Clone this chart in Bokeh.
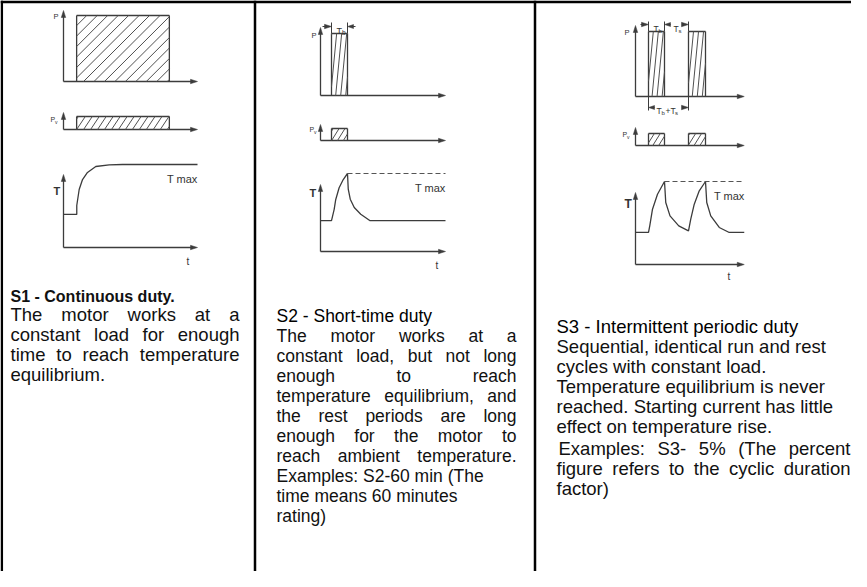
import math
from bokeh.plotting import figure
from bokeh.models import Range1d
from bokeh.embed import file_html
from bokeh.resources import INLINE
from bokeh.core.properties import value

# ---------------- data (chart units) ----------------
# load (run) periods in time units; power and losses relative (1 = rated)
s1_load = [(0.98, 7.9)]
s2_load = [(0.88, 2.16)]
s3_load = [(1.04, 2.32), (4.24, 5.60)]
load_level = 1.0
loss_level = 1.0
axis_len = [10.0, 10.0, 8.7]

# temperature curves: time units, temperature relative (1 = Tmax)
s1_t = [0.0, 0.99, 0.99, 1.17, 1.42, 1.79, 2.41, 3.41, 4.40, 10.0]
s1_T = [0.398, 0.398, 0.506, 0.699, 0.819, 0.904, 0.976, 0.996, 1.0, 1.0]
s2_t = [0.0, 0.88, 1.09, 1.22, 1.49, 1.82, 2.16, 2.22, 2.38, 2.70, 3.22, 3.94, 10.0]
s2_T = [0.397, 0.397, 0.538, 0.667, 0.817, 0.923, 1.0, 0.799, 0.671, 0.564, 0.478, 0.397, 0.397]
s3_t = [0.0, 1.04, 1.14, 1.36, 1.76, 2.32, 2.42, 2.76, 3.46, 4.24, 4.42, 4.70, 5.10, 5.60,
        5.70, 6.02, 6.70, 7.50, 8.7]
s3_T = [0.386, 0.386, 0.466, 0.666, 0.847, 1.0, 0.747, 0.586, 0.466, 0.405, 0.546, 0.727,
        0.888, 1.0, 0.747, 0.586, 0.446, 0.386, 0.386]
tmax_level = 1.0

headers = ["S1 - Continuous duty.", "S2 - Short-time duty", "S3 - Intermittent periodic duty"]
col1_lines = [("The motor works at a", True), ("constant load for enough", True),
              ("time to reach temperature", True), ("equilibrium.", False)]
col2_lines = [("The motor works at a", True), ("constant load, but not long", True),
              ("enough to reach", True), ("temperature equilibrium, and", True),
              ("the rest periods are long", True), ("enough for the motor to", True),
              ("reach ambient temperature.", True), ("Examples: S2-60 min (The", False),
              ("time means 60 minutes", False), ("rating)", False)]
col3_lines = [("Sequential, identical run and rest", False), ("cycles with constant load.", False),
              ("Temperature equilibrium is never", False), ("reached. Starting current has little", False),
              ("effect on temperature rise.", False), ("Examples: S3- 5% (The percent", True),
              ("figure refers to the cyclic duration", True), ("factor)", False)]

# ---------------- geometry / styles ----------------
GEOM = [
    dict(x0=71, ts=13.4, pb=89, ptop=18, ph=66, vb=137, vtop=120, vh=13, tb=255, ttop=182, th=83),
    dict(x0=328, ts=12.5, pb=103, ptop=35, ph=62, vb=148, vtop=132, vh=12, tb=259, ttop=192, th=78),
    dict(x0=643, ts=12.5, pb=104, ptop=33, ph=65, vb=153, vtop=135, vh=12, tb=272, ttop=200, th=83),
]
LINE = "#3c3c3c"
HATCH = "#505050"
FONT = "Liberation Sans"

p = figure(width=851, height=571, x_range=Range1d(8, 859), y_range=Range1d(579, 8),
           output_backend="svg", toolbar_location=None, x_axis_type=None, y_axis_type=None,
           min_border=0, outline_line_color=None)
p.background_fill_color = "white"
p.border_fill_color = "white"


def hatch(x0, x1, ytop, ybot, dirx, diry, spacing, phase=0.0):
    L = math.hypot(dirx, diry)
    dx, dy = dirx / L, diry / L
    nx, ny = -dy, dx
    cs = [nx * cx + ny * cy for cx in (x0, x1) for cy in (ytop, ybot)]
    k = math.ceil((min(cs) - phase) / spacing)
    c = phase + k * spacing
    segs = []
    while c <= max(cs):
        px, py = c * nx, c * ny
        smin, smax = -1e9, 1e9
        for p0, d, lo, hi in ((px, dx, x0, x1), (py, dy, ytop, ybot)):
            if abs(d) < 1e-12:
                if p0 < lo or p0 > hi:
                    smin, smax = 1, 0
            else:
                a, b = (lo - p0) / d, (hi - p0) / d
                if a > b:
                    a, b = b, a
                smin, smax = max(smin, a), min(smax, b)
        if smax - smin > 0.8:
            segs.append((px + smin * dx, py + smin * dy, px + smax * dx, py + smax * dy))
        c += spacing
    return segs


seg = dict(x0=[], y0=[], x1=[], y1=[])
hseg = dict(x0=[], y0=[], x1=[], y1=[])
tri_x, tri_y = [], []


def add_seg(d, a, b, c, e):
    d["x0"].append(a); d["y0"].append(b); d["x1"].append(c); d["y1"].append(e)


def arrow_up(x, y):
    tri_x.append([x, x - 2.2, x + 2.2]); tri_y.append([y, y + 7, y + 7])


def arrow_right(x, y):
    tri_x.append([x, x - 7, x - 7]); tri_y.append([y, y - 2.2, y + 2.2])


def arrow_left(x, y):
    tri_x.append([x, x + 6, x + 6]); tri_y.append([y, y - 2, y + 2])


loads = [s1_load, s2_load, s3_load]
curves = [(s1_t, s1_T), (s2_t, s2_T), (s3_t, s3_T)]
hatch_p = [((1, -1), 7.4), ((6, -62), 5.0), ((6, -62), 5.0)]
hatch_v = [((1, -1.5), 5.8), ((1, -1.6), 5.0), ((1, -1.6), 5.0)]

for i, g in enumerate(GEOM):
    X = lambda t, g=g: g["x0"] + t * g["ts"]
    xend = X(axis_len[i])
    # axes
    for base, top in ((g["pb"], g["ptop"]), (g["vb"], g["vtop"]), (g["tb"], g["ttop"])):
        add_seg(seg, g["x0"], base, g["x0"], top + 5)
        arrow_up(g["x0"], top)
        add_seg(seg, g["x0"], base, xend - 5, base)
        arrow_right(xend, base)
    # load and loss rectangles
    for (a, b) in loads[i]:
        xa, xb = X(a), X(b)
        ytop = g["pb"] - load_level * g["ph"]
        add_seg(seg, xa, g["pb"], xa, ytop); add_seg(seg, xa, ytop, xb, ytop)
        add_seg(seg, xb, ytop, xb, g["pb"])
        (hx, hy), sp = hatch_p[i]
        for s in hatch(xa, xb, ytop, g["pb"], hx, hy, sp, phase=1.5):
            add_seg(hseg, *s)
        vtop = g["vb"] - loss_level * g["vh"]
        add_seg(seg, xa, g["vb"], xa, vtop); add_seg(seg, xa, vtop, xb, vtop)
        add_seg(seg, xb, vtop, xb, g["vb"])
        (hx, hy), sp = hatch_v[i]
        for s in hatch(xa, xb, vtop, g["vb"], hx, hy, sp, phase=1.0):
            add_seg(hseg, *s)

p.segment(x0="x0", y0="y0", x1="x1", y1="y1", source=seg, line_color=LINE, line_width=1.3)
p.segment(x0="x0", y0="y0", x1="x1", y1="y1", source=hseg, line_color=HATCH, line_width=1.0)

# temperature curves and Tmax
for i, g in enumerate(GEOM):
    tt, TT = curves[i]
    xs = [g["x0"] + t * g["ts"] for t in tt]
    ys = [g["tb"] - v * g["th"] for v in TT]
    p.line(xs, ys, line_color=LINE, line_width=1.3)
    if i > 0:
        xpk = g["x0"] + loads[i][0][1] * g["ts"]
        yT = g["tb"] - tmax_level * g["th"]
        p.line([xpk, g["x0"] + axis_len[i] * g["ts"]], [yT, yT], line_color="#555555",
               line_width=1.2, line_dash="5 3")

# dimension marks (Tb, Ts, Tb+Ts)
dim = dict(x0=[], y0=[], x1=[], y1=[])
g2, g3 = GEOM[1], GEOM[2]
a2, b2 = [g2["x0"] + v * g2["ts"] for v in s2_load[0]]
top2 = g2["pb"] - g2["ph"]
add_seg(dim, a2, top2, a2, 30); add_seg(dim, b2, top2, b2, 30)
add_seg(dim, a2 - 9, 34, a2 - 4, 34); arrow_right(a2, 34)
add_seg(dim, b2 + 4, 34, b2 + 8, 34); arrow_left(b2, 34)
a3, b3 = [g3["x0"] + v * g3["ts"] for v in s3_load[0]]
c3, d3 = [g3["x0"] + v * g3["ts"] for v in s3_load[1]]
top3 = g3["pb"] - g3["ph"]
for xx in (a3, b3, c3):
    add_seg(dim, xx, top3, xx, 29)
add_seg(dim, a3 - 8, 32, a3 - 4, 32); arrow_right(a3, 32)
add_seg(dim, b3 + 4, 32, b3 + 6, 32); arrow_left(b3, 32)
add_seg(dim, c3 - 6, 32, c3 - 4, 32); arrow_right(c3, 32)
for xx in (a3, c3):
    add_seg(dim, xx, g3["pb"], xx, 118)
add_seg(dim, a3 + 4, 115, a3 + 6, 115); arrow_left(a3, 115)
add_seg(dim, c3 - 6, 115, c3 - 4, 115); arrow_right(c3, 115)
p.segment(x0="x0", y0="y0", x1="x1", y1="y1", source=dim, line_color=LINE, line_width=1.0)
p.patches(tri_x, tri_y, fill_color=LINE, line_color=LINE, line_width=0.5)

# diagram labels
def lab(x, y, s, size, bold=False, align="left", color="#333333"):
    p.text([x], [y], text=[s], text_font=value(FONT), text_font_size=f"{size}px",
           text_font_style="bold" if bold else "normal", text_align=align,
           text_baseline="alphabetic", text_color=color)

# P, Pv, T, t, Tmax
lab(61, 24, "P", 7.5); lab(319, 43, "P", 7.5); lab(632, 40, "P", 7.5)
for (px_, py_) in ((58, 127), (317, 137), (630, 142)):
    lab(px_, py_, "P", 7); lab(px_ + 4.5, py_ + 2, "v", 5)
lab(61, 198, "T", 11, True); lab(317, 200, "T", 11, True); lab(632, 211, "T", 12, True)
lab(194, 269, "t", 10); lab(443, 273, "t", 10); lab(735, 284, "t", 10)
lab(205, 186, "T max", 11, align="right"); lab(453, 195, "T max", 11, align="right")
lab(752, 203, "T max", 11, align="right")
lab((a2 + b2) / 2 - 3, 38, "T", 9); lab((a2 + b2) / 2 + 2.5, 40, "b", 6.5)
lab((a3 + b3) / 2 - 3, 36, "T", 8.5); lab((a3 + b3) / 2 + 2, 38, "b", 6)
lab((b3 + c3) / 2 - 3, 36, "T", 8.5); lab((b3 + c3) / 2 + 2, 38, "s", 6)
lab((a3 + c3) / 2 - 12, 118, "T", 8.5); lab((a3 + c3) / 2 - 7, 120, "b", 6)
lab((a3 + c3) / 2 - 3, 118, "+T", 8.5); lab((a3 + c3) / 2 + 6.5, 120, "s", 6)

# ---------------- text blocks ----------------
W = {' ': 278, 'a': 556, 'b': 556, 'c': 500, 'd': 556, 'e': 556, 'f': 278, 'g': 556, 'h': 556,
     'i': 222, 'j': 222, 'k': 500, 'l': 222, 'm': 833, 'n': 556, 'o': 556, 'p': 556, 'q': 556,
     'r': 333, 's': 500, 't': 278, 'u': 556, 'v': 500, 'w': 722, 'x': 500, 'y': 500, 'z': 500,
     'A': 667, 'B': 667, 'C': 722, 'D': 722, 'E': 667, 'F': 611, 'G': 778, 'H': 722, 'I': 278,
     'S': 667, 'T': 611, ',': 278, '.': 278, ':': 278, '-': 333, '(': 333, ')': 333, '%': 889}


def tw(s, size):
    return sum(W.get(c, 556) for c in s) * size / 1000.0


col_left = [18, 284, 564]
col_right = [247, 524, 858]
col_y0 = [322, 343, 354]
col_size = [18.5, 17.5, 18.5]
cols = [col1_lines, col2_lines, col3_lines]
for ci, lines in enumerate(cols):
    size = col_size[ci]
    left_txt = dict(x=[], y=[], t=[])
    right_txt = dict(x=[], y=[], t=[])
    y = col_y0[ci]
    for li, (line, just) in enumerate(lines):
        yy = y + 20 * li + (2 if (ci == 2 and li >= 5) else 0)
        xl = col_left[ci] + (2 if (ci == 2 and li == 5) else 0)
        if just:
            words = line.split()
            ws = [tw(w, size) for w in words]
            gap = (col_right[ci] - xl - sum(ws)) / (len(words) - 1)
            x = xl
            for w, wd in zip(words[:-1], ws[:-1]):
                left_txt["x"].append(x); left_txt["y"].append(yy); left_txt["t"].append(w)
                x += wd + gap
            right_txt["x"].append(col_right[ci]); right_txt["y"].append(yy)
            right_txt["t"].append(words[-1])
        else:
            left_txt["x"].append(xl); left_txt["y"].append(yy); left_txt["t"].append(line)
    p.text(x="x", y="y", text="t", source=left_txt, text_font=value(FONT),
           text_font_size=f"{size}px", text_baseline="alphabetic", text_align="left",
           text_color="#111111")
    if right_txt["x"]:
        p.text(x="x", y="y", text="t", source=right_txt, text_font=value(FONT),
               text_font_size=f"{size}px", text_baseline="alphabetic", text_align="right",
               text_color="#111111")

# headers
p.text([18], [304], text=[headers[0]], text_font=value(FONT), text_font_size="16px",
       text_font_style="bold", text_baseline="alphabetic", text_color="#111111")
p.text([284], [323], text=[headers[1]], text_font=value(FONT), text_font_size="17.5px",
       text_baseline="alphabetic", text_color="#000000")
p.text([564], [334], text=[headers[2]], text_font=value(FONT), text_font_size="18.5px",
       text_baseline="alphabetic", text_color="#000000")

# table borders
p.segment(x0=[8], y0=[9.3], x1=[859], y1=[9.3], line_color="black", line_width=2.7)
p.segment(x0=[9.3, 262.5, 542.5], y0=[8, 8, 8], x1=[9.3, 262.5, 542.5], y1=[579, 579, 579],
          line_color="black", line_width=2.5)

open("out.html", "w").write(file_html(p, INLINE))
